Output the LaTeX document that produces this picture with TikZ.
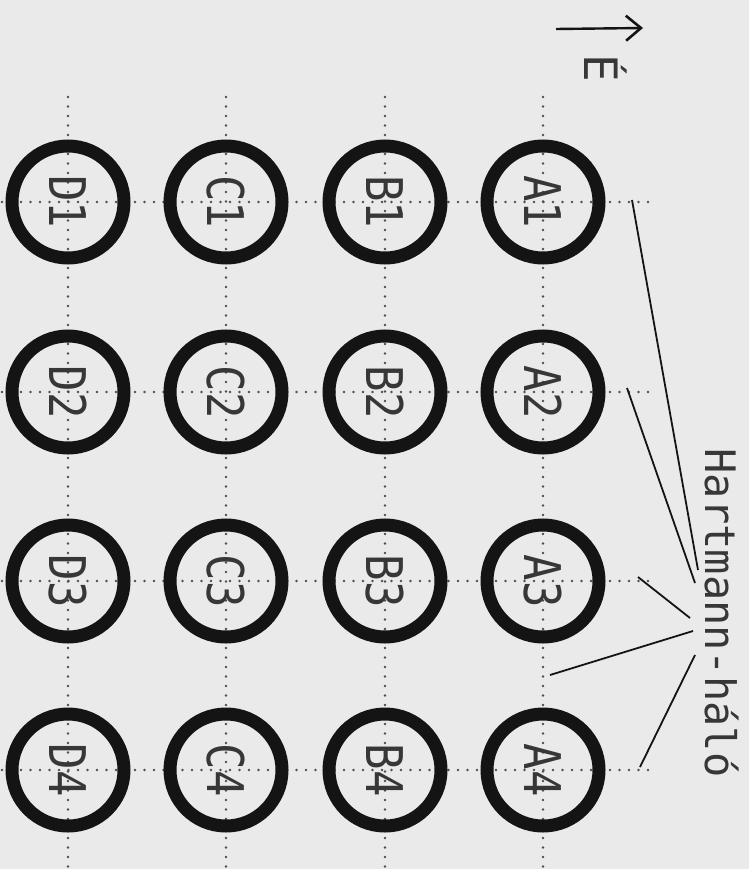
\documentclass[tikz,border=0pt]{standalone}
\usepackage{fontspec}
\usepackage{graphicx}
\usepackage{tikz}
\usetikzlibrary{positioning, calc, arrows.meta}
\newfontfamily\gridfont{DejaVu Sans Mono}
\definecolor{paper}{RGB}{234,234,234}
\definecolor{ink}{RGB}{20,20,20}

\begin{document}
\begin{tikzpicture}[
    x=1pt, y=-1pt,
    ring/.style={circle, draw=ink, line width=13pt, minimum size=112pt, inner sep=0pt,
      rotate=-90, text=ink!85, font=\gridfont\fontsize{44}{48}\selectfont},
    grid line/.style={ink!75, line width=2.8pt, dash pattern=on 0pt off 9.5pt, line cap=round},
    fan/.style={ink, line width=1.8pt},
    label text/.style={rotate=-90, anchor=base, text=ink!85}
  ]
  \fill[paper] (0,0) rectangle (749,869);
  \useasboundingbox (0,0) rectangle (749,869);

  % dotted grid
  \foreach \x in {543, 385, 226, 68}
    \draw[grid line] (\x,97) -- (\x,869);
  \foreach \y in {202, 392, 581, 770}
    \draw[grid line] (2,\y) -- (650,\y);

  % zones
  \foreach \col/\x in {A/543, B/385, C/226, D/68}
    \foreach \row/\y in {1/202, 2/392, 3/581, 4/770}
      \node[ring] (\col\row) at (\x,\y) {\scalebox{1}[1.15]{\col\row}};

  % north arrow
  \coordinate (n0) at (556,29);
  \coordinate (n1) at (643,28);
  \draw[ink, line width=2.4pt, -{Straight Barb[length=15pt, width=25pt, line width=2.6pt]}] (n0) -- (n1);
  \node[label text, font=\gridfont\fontsize{46}{50}\selectfont] (north) at (584,68) {É};

  % label and its pointers
  \node[label text, font=\gridfont\fontsize{42}{46}\selectfont] (hartmann) at (705,613) {Hartmann-háló};
  \coordinate (s1) at (632,200);  \coordinate (h1) at (698,570);
  \coordinate (s2) at (627,388);  \coordinate (h2) at (695,583);
  \coordinate (s3) at (638,577);  \coordinate (h3) at (690,618);
  \coordinate (s4) at (550,675);  \coordinate (h4) at (693,631);
  \coordinate (s5) at (640,767);  \coordinate (h5) at (695,655);
  \foreach \i in {1,...,5}
    \draw[fan] (s\i) -- (h\i);
\end{tikzpicture}
\end{document}
